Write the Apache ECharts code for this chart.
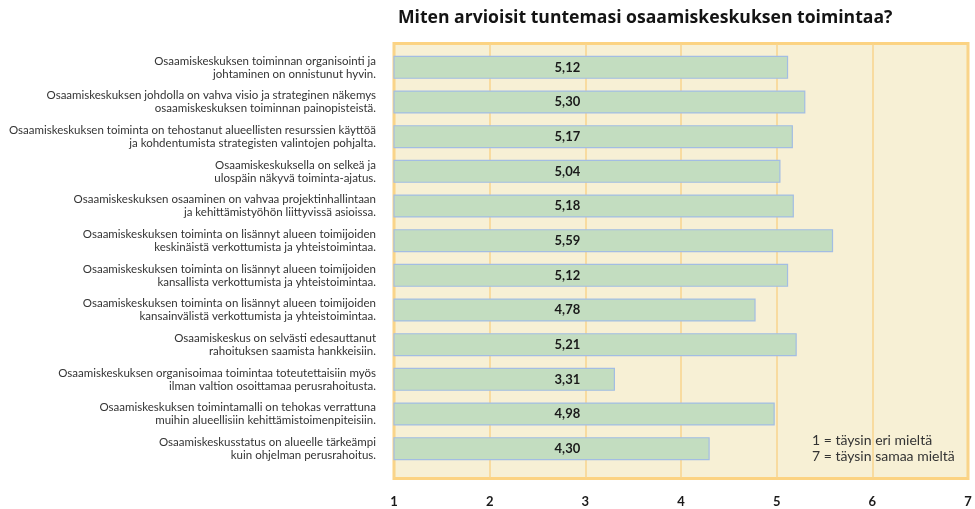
<!DOCTYPE html>
<html>
<head>
<meta charset="utf-8">
<script src="https://cdn.jsdelivr.net/npm/echarts@6/dist/echarts.min.js"></script>
<style>
  html, body { margin: 0; padding: 0; background: #fff; }
  #chart { width: 975px; height: 509px; }
</style>
</head>
<body>
<div id="chart"></div>
<script>
var statements = [
    'Osaamiskeskuksen toiminnan organisointi ja\njohtaminen on onnistunut hyvin.',
    'Osaamiskeskuksen johdolla on vahva visio ja strateginen näkemys\nosaamiskeskuksen toiminnan painopisteistä.',
    'Osaamiskeskuksen toiminta on tehostanut alueellisten resurssien käyttöä\nja kohdentumista strategisten valintojen pohjalta.',
    'Osaamiskeskuksella on selkeä ja\nulospäin näkyvä toiminta-ajatus.',
    'Osaamiskeskuksen osaaminen on vahvaa projektinhallintaan\nja kehittämistyöhön liittyvissä asioissa.',
    'Osaamiskeskuksen toiminta on lisännyt alueen toimijoiden\nkeskinäistä verkottumista ja yhteistoimintaa.',
    'Osaamiskeskuksen toiminta on lisännyt alueen toimijoiden\nkansallista verkottumista ja yhteistoimintaa.',
    'Osaamiskeskuksen toiminta on lisännyt alueen toimijoiden\nkansainvälistä verkottumista ja yhteistoimintaa.',
    'Osaamiskeskus on selvästi edesauttanut\nrahoituksen saamista hankkeisiin.',
    'Osaamiskeskuksen organisoimaa toimintaa toteutettaisiin myös\nilman valtion osoittamaa perusrahoitusta.',
    'Osaamiskeskuksen toimintamalli on tehokas verrattuna\nmuihin alueellisiin kehittämistoimenpiteisiin.',
    'Osaamiskeskusstatus on alueelle tärkeämpi\nkuin ohjelman perusrahoitus.'
];
var averages = [5.12, 5.30, 5.17, 5.04, 5.18, 5.59, 5.12, 4.78, 5.21, 3.31, 4.98, 4.30];
var scaleMin = 1;
var scaleMax = 7;
var titleText = 'Miten arvioisit tuntemasi osaamiskeskuksen toimintaa?';
var noteText = '1 = täysin eri mieltä\n7 = täysin samaa mieltä';

var font = 'Lato, "Open Sans", sans-serif';
var chart = echarts.init(document.getElementById('chart'));

var option = {
    animation: false,
    textStyle: { fontFamily: font },
    title: {
        text: titleText,
        left: 393,
        top: 4,
        textStyle: { fontFamily: '"Open Sans", sans-serif', fontSize: 17.6, fontWeight: 'bold', color: '#141414' }
    },
    grid: [
        // background frame with the scale
        {
            left: 394, right: 7, top: 43.5, bottom: 30.5,
            show: true, backgroundColor: '#f7f0d5',
            borderColor: '#fcd382', borderWidth: 3
        },
        // bars
        { left: 394, right: 7, top: 50, bottom: 43 }
    ],
    xAxis: [
        {
            gridIndex: 0, type: 'value', min: scaleMin, max: scaleMax, interval: 1,
            axisLine: { show: false }, axisTick: { show: false },
            splitLine: { lineStyle: { color: '#f8d48c', width: 1.5 } },
            axisLabel: { margin: 17, fontSize: 13, fontWeight: 'bold', color: '#1a1a1a', fontFamily: font }
        },
        {
            gridIndex: 1, type: 'value', min: scaleMin, max: scaleMax,
            show: false, splitLine: { show: false }
        }
    ],
    yAxis: [
        { gridIndex: 0, type: 'value', show: false, splitLine: { show: false } },
        {
            gridIndex: 1, type: 'category', data: statements, inverse: true,
            axisLine: { show: false }, axisTick: { show: false }, splitLine: { show: false },
            axisLabel: {
                margin: 18, fontSize: 11.5, lineHeight: 13, color: '#333',
                align: 'right', fontFamily: font
            }
        }
    ],
    graphic: [{
        type: 'text',
        left: 812,
        top: 432,
        style: {
            text: noteText,
            font: '14px ' + font,
            fill: '#333',
            lineHeight: 16.5
        }
    }],
    series: [{
        type: 'bar',
        xAxisIndex: 1,
        yAxisIndex: 1,
        data: averages,
        barWidth: 23,
        itemStyle: { color: '#c3ddc0', borderColor: '#a3bde3', borderWidth: 1.2 },
        label: {
            show: true,
            position: [174, '50%'],
            align: 'center',
            verticalAlign: 'middle',
            fontSize: 13,
            fontWeight: 'bold',
            color: '#1a1a1a',
            fontFamily: font,
            formatter: function (p) { return p.value.toFixed(2).replace('.', ','); }
        }
    }]
};

chart.setOption(option);
</script>
</body>
</html>
